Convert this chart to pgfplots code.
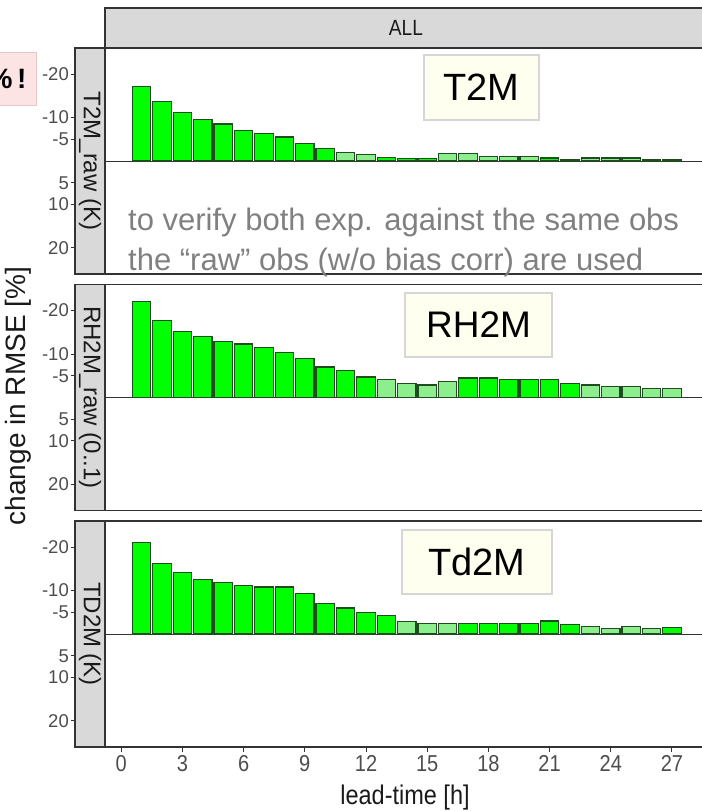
\documentclass[border=0pt]{standalone}
\usepackage{pgfplots}
\pgfplotsset{compat=1.18}
\usepackage{pgfplotstable}
\usepackage{fontspec}
\setmainfont{Liberation Sans}
\newfontfamily\narrowfont[FakeStretch=0.87]{Liberation Sans}

\definecolor{sigfill}{HTML}{00FF00}
\definecolor{nsfill}{HTML}{8CEE8C}
\definecolor{bardraw}{HTML}{1F4D1F}
\definecolor{stripfill}{HTML}{D9D9D9}
\definecolor{framecol}{HTML}{333333}
\definecolor{ticktext}{HTML}{4D4D4D}
\definecolor{striptext}{HTML}{1A1A1A}
\definecolor{notegray}{HTML}{808080}
\definecolor{boxfill}{HTML}{FFFFF0}
\definecolor{boxdraw}{HTML}{D6D6D6}
\definecolor{pinkfill}{HTML}{FCE4E4}
\definecolor{pinkdraw}{HTML}{EBC6C6}

% change in RMSE [%], negative = improvement; sig / ns = significant or not
\pgfplotstableread{
h sig ns
1 -17.1 nan
2 -13.7 nan
3 -11.1 nan
4 -9.6 nan
5 -8.5 nan
6 -7.0 nan
7 -6.4 nan
8 -5.5 nan
9 -4.1 nan
10 -2.9 nan
11 nan -1.9
12 nan -1.5
13 -0.8 nan
14 -0.6 nan
15 -0.6 nan
16 nan -1.7
17 nan -1.7
18 nan -1.1
19 nan -1.1
20 nan -1.1
21 -0.7 nan
22 -0.4 nan
23 nan -0.7
24 nan -0.7
25 nan -0.7
26 -0.35 nan
27 -0.35 nan
}\tTwoM

\pgfplotstableread{
h sig ns
1 -22.1 nan
2 -17.8 nan
3 -15.2 nan
4 -14.1 nan
5 -12.9 nan
6 -12.3 nan
7 -11.5 nan
8 -10.4 nan
9 -8.9 nan
10 -7.0 nan
11 -6.3 nan
12 -4.7 nan
13 nan -4.1
14 nan -3.2
15 nan -2.9
16 nan -3.6
17 -4.5 nan
18 -4.5 nan
19 -4.2 nan
20 -4.2 nan
21 -4.2 nan
22 -3.2 nan
23 nan -2.9
24 nan -2.5
25 nan -2.5
26 nan -2.1
27 nan -2.1
}\tRHTwoM

\pgfplotstableread{
h sig ns
1 -21.1 nan
2 -16.3 nan
3 -14.2 nan
4 -12.6 nan
5 -11.9 nan
6 -11.2 nan
7 -10.8 nan
8 -10.8 nan
9 -9.3 nan
10 -7.1 nan
11 -6.0 nan
12 -4.9 nan
13 -4.2 nan
14 nan -2.9
15 nan -2.5
16 nan -2.5
17 -2.5 nan
18 -2.5 nan
19 -2.5 nan
20 -2.5 nan
21 -3.0 nan
22 -2.2 nan
23 nan -1.7
24 nan -1.3
25 nan -1.7
26 nan -1.3
27 -1.5 nan
}\tTdTwoM

\tikzset{
  strip/.style={fill=stripfill, draw=framecol, line width=1.3bp},
  striplabel/.style={rotate=-90, text=striptext, font=\fontsize{24bp}{26bp}\selectfont},
}
\pgfplotsset{
  panel/.style={
    scale only axis, width=633.6bp, height=226bp, anchor=north west,
    xmin=-2.2657, xmax=28.795, ymin=-26, ymax=26, y dir=reverse,
    clip=false,
    axis line style={draw=none},
    ytick={-20,-10,-5,5,10,20},
    yticklabels={-20,-10,-5,5,10,20},
    ytick pos=left,
    xtick=\empty,
    tick align=outside,
    major tick length=4.5bp,
    tick style={framecol, line width=1bp},
    yticklabel style={font=\fontsize{18.5bp}{20bp}\selectfont, text=ticktext, inner sep=1.5bp},
  },
  sigbar/.style={ybar, bar width=0.9, bar shift=0pt, fill=sigfill, draw=bardraw, line width=1.2bp},
  nsbar/.style={ybar, bar width=0.9, bar shift=0pt, fill=nsfill, draw=bardraw, line width=1.2bp},
}

\begin{document}
\begin{tikzpicture}
\useasboundingbox (0,0) rectangle (702bp,-811bp);

% T2M
\begin{axis}[panel, at={(75bp,-48bp)}]
  \filldraw[strip] (axis cs:-2.2657,-26) rectangle (axis cs:-0.795,26);
  \node[striplabel] at (axis cs:-1.5305,0) {T2M\_raw (K)};
  \draw[framecol, line width=1bp] (axis cs:-0.795,0) -- (axis cs:28.795,0);
  \addplot[sigbar] table[x=h, y=sig] {\tTwoM};
  \addplot[nsbar] table[x=h, y=ns] {\tTwoM};
  \draw[framecol, line width=1.3bp] (axis cs:-0.795,-26) rectangle (axis cs:28.795,26);
\end{axis}

% RH2M
\begin{axis}[panel, at={(75bp,-284.5bp)}]
  \filldraw[strip] (axis cs:-2.2657,-26) rectangle (axis cs:-0.795,26);
  \node[striplabel] at (axis cs:-1.5305,0) {RH2M\_raw (0..1)};
  \draw[framecol, line width=1bp] (axis cs:-0.795,0) -- (axis cs:28.795,0);
  \addplot[sigbar] table[x=h, y=sig] {\tRHTwoM};
  \addplot[nsbar] table[x=h, y=ns] {\tRHTwoM};
  \draw[framecol, line width=1.3bp] (axis cs:-0.795,-26) rectangle (axis cs:28.795,26);
\end{axis}

% Td2M
\begin{axis}[panel, at={(75bp,-521bp)},
  xtick={0,3,6,9,12,15,18,21,24,27},
  xticklabels={0,3,6,9,12,15,18,21,24,27},
  xtick pos=bottom,
  xticklabel style={font=\narrowfont\fontsize{23bp}{24bp}\selectfont, text=ticktext, inner sep=4bp},
]
  \filldraw[strip] (axis cs:-2.2657,-26) rectangle (axis cs:-0.795,26);
  \node[striplabel] at (axis cs:-1.5305,0) {TD2M (K)};
  \draw[framecol, line width=1bp] (axis cs:-0.795,0) -- (axis cs:28.795,0);
  \addplot[sigbar] table[x=h, y=sig] {\tTdTwoM};
  \addplot[nsbar] table[x=h, y=ns] {\tTdTwoM};
  \draw[framecol, line width=1.3bp] (axis cs:-0.795,-26) rectangle (axis cs:28.795,26);
\end{axis}

% top strip
\filldraw[strip] (105bp,-8bp) rectangle (708.6bp,-48bp);
\node[text=striptext, font=\narrowfont\fontsize{22bp}{24bp}\selectfont] at (406bp,-28bp) {ALL};

% axis titles
\node[rotate=90, text=striptext, font=\fontsize{28bp}{30bp}\selectfont] at (18bp,-396bp) {change in RMSE [\%]};
\node[text=striptext, font=\narrowfont\fontsize{27bp}{29bp}\selectfont] at (405bp,-798bp) {lead-time [h]};

% annotations
\node[fill=boxfill, draw=boxdraw, line width=1.2bp, minimum width=115bp, minimum height=65bp,
      font=\fontsize{38bp}{40bp}\selectfont] at (481.5bp,-87.5bp) {T2M};
\node[fill=boxfill, draw=boxdraw, line width=1.2bp, minimum width=147bp, minimum height=64bp,
      font=\fontsize{37bp}{40bp}\selectfont] at (478.5bp,-325bp) {RH2M};
\node[fill=boxfill, draw=boxdraw, line width=1.2bp, minimum width=150bp, minimum height=64bp,
      font=\fontsize{38bp}{40bp}\selectfont] at (477bp,-562bp) {Td2M};

\node[anchor=base west, text=notegray, font=\fontsize{31bp}{33bp}\selectfont, inner sep=0pt]
  at (128bp,-230bp) {to verify both exp. against the same obs};
\node[anchor=base west, text=notegray, font=\fontsize{31bp}{33bp}\selectfont, inner sep=0pt]
  at (128bp,-270bp) {the “raw” obs (w/o bias corr) are used};

\node[anchor=east, fill=pinkfill, draw=pinkdraw, line width=1bp, minimum height=53bp,
      text width=60bp, align=right, inner xsep=10bp,
      font=\bfseries\fontsize{28bp}{30bp}\selectfont]
  at (37bp,-78.5bp) {\%\,!};
\end{tikzpicture}
\end{document}
